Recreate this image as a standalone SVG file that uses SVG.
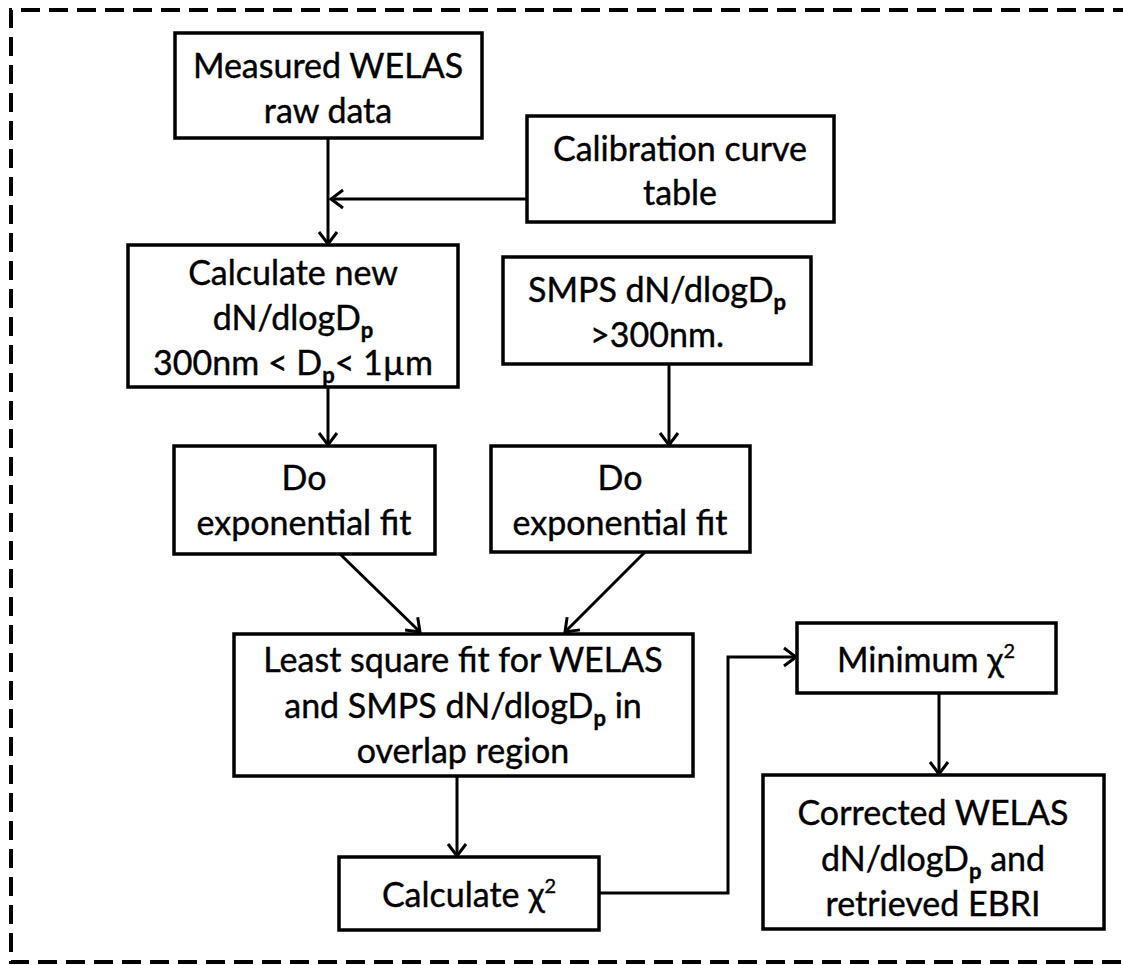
<svg xmlns="http://www.w3.org/2000/svg" width="1123" height="965" viewBox="0 0 1123 965">
<defs>
<style>
.box{fill:#fff;stroke:#000;stroke-width:3.5}
.t{font-family:Lato,"Open Sans","Liberation Sans",sans-serif;font-size:34px;fill:#000;stroke:#000;stroke-width:0.4;text-anchor:middle}
.sub{font-size:22px;font-weight:bold}
.sup{font-size:20px}
.c{fill:none;stroke:#000;stroke-width:3}
</style>
<marker id="ah" viewBox="-14 -11 16 22" refX="0" refY="0" markerWidth="16" markerHeight="22" markerUnits="userSpaceOnUse" orient="auto">
<path d="M-12,-9 L0,0 L-12,9" fill="none" stroke="#000" stroke-width="3"/>
</marker>
</defs>
<path d="M1160,10 L11,10 L11,962 L1160,962" fill="none" stroke="#000" stroke-width="4" stroke-dasharray="19 9"/>
<g id="connectors">
<line class="c" x1="328" y1="138" x2="328" y2="244" marker-end="url(#ah)"/>
<line class="c" x1="527" y1="199" x2="331" y2="199" marker-end="url(#ah)"/>
<line class="c" x1="328" y1="387" x2="328" y2="445" marker-end="url(#ah)"/>
<line class="c" x1="669" y1="364" x2="669" y2="445" marker-end="url(#ah)"/>
<line class="c" x1="340" y1="554" x2="420" y2="632" marker-end="url(#ah)"/>
<line class="c" x1="645" y1="552" x2="565" y2="632" marker-end="url(#ah)"/>
<line class="c" x1="457" y1="776" x2="457" y2="856" marker-end="url(#ah)"/>
<polyline class="c" points="599,893 728,893 728,657 796,657" marker-end="url(#ah)"/>
<line class="c" x1="939" y1="693" x2="939" y2="774" marker-end="url(#ah)"/>
</g>
<g id="n1"><rect class="box" x="175" y="33" width="307" height="105"/>
<text class="t" x="328" y="78">Measured WELAS</text><text class="t" x="328" y="123">raw data</text></g>
<g id="n2"><rect class="box" x="527" y="116" width="307" height="106"/>
<text class="t" x="680" y="161">Calibration curve</text><text class="t" x="680" y="205">table</text></g>
<g id="n3"><rect class="box" x="128" y="245" width="330" height="142"/>
<text class="t" x="293" y="285">Calculate new</text>
<text class="t" x="293" y="330">dN/dlogD<tspan class="sub" dy="8">p</tspan></text>
<text class="t" x="293" y="375">300nm &lt; D<tspan class="sub" dy="8">p</tspan><tspan dy="-8">&lt; 1µm</tspan></text></g>
<g id="n4"><rect class="box" x="503" y="257" width="308" height="107"/>
<text class="t" x="657" y="302">SMPS dN/dlogD<tspan class="sub" dy="8">p</tspan></text>
<text class="t" x="657" y="347">&gt;300nm.</text></g>
<g id="n5"><rect class="box" x="174" y="446" width="261" height="108"/>
<text class="t" x="304" y="490">Do</text><text class="t" x="304" y="535">exponential fit</text></g>
<g id="n6"><rect class="box" x="491" y="446" width="259" height="106"/>
<text class="t" x="620" y="490">Do</text><text class="t" x="620" y="535">exponential fit</text></g>
<g id="n7"><rect class="box" x="234" y="634" width="459" height="142"/>
<text class="t" x="463" y="672">Least square fit for WELAS</text>
<text class="t" x="463" y="718">and SMPS dN/dlogD<tspan class="sub" dy="8">p</tspan><tspan dy="-8"> in</tspan></text>
<text class="t" x="463" y="763">overlap region</text></g>
<g id="n8"><rect class="box" x="339" y="857" width="260" height="73"/>
<text class="t" x="469" y="907">Calculate χ<tspan class="sup" dy="-14">2</tspan></text></g>
<g id="n9"><rect class="box" x="797" y="623" width="259" height="70"/>
<text class="t" x="926" y="672">Minimum χ<tspan class="sup" dy="-14">2</tspan></text></g>
<g id="n10"><rect class="box" x="763" y="775" width="341" height="154"/>
<text class="t" x="933" y="825">Corrected WELAS</text>
<text class="t" x="933" y="871">dN/dlogD<tspan class="sub" dy="8">p</tspan><tspan dy="-8"> and</tspan></text>
<text class="t" x="933" y="916">retrieved EBRI</text></g>
</svg>
